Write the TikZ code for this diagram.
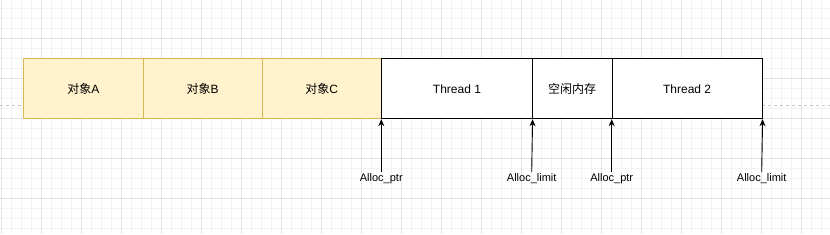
\documentclass[tikz,border=0pt]{standalone}
\usepackage{fontspec}
\setmainfont{Liberation Sans}
\newfontfamily\cjk{Noto Sans CJK SC}
\usetikzlibrary{arrows.meta}
\definecolor{objfill}{HTML}{FFF2CC}
\definecolor{objdraw}{HTML}{D6B656}
\definecolor{gridminor}{HTML}{F3F3F3}
\definecolor{gridmajor}{HTML}{E3E3E3}
\definecolor{dashgray}{HTML}{C8C8C8}
\begin{document}
\begin{tikzpicture}[x=1pt,y=-1pt,
  minorgrid/.style={draw=gridminor,line width=0.8pt},
  majorgrid/.style={draw=gridmajor,line width=0.8pt},
  objbox/.style={draw=objdraw,fill=objfill,line width=0.9pt,minimum height=60pt,anchor=north west,inner sep=0pt,font=\fontsize{12}{14}\selectfont},
  memblk/.style={draw=black,fill=white,line width=0.9pt,minimum height=60pt,anchor=north west,inner sep=0pt,font=\fontsize{12}{14}\selectfont},
  lbl/.style={inner sep=1pt,font=\fontsize{11}{13}\selectfont},
  ptr/.style={draw=black,line width=0.9pt,-{Stealth[length=7pt,width=6pt]}}]
\fill[white] (0,0) rectangle (830,234);
\useasboundingbox (0,0) rectangle (830,234);
% grid
\foreach \i in {0,...,83} {\draw[minorgrid] (1.3+10*\i,0) -- (1.3+10*\i,234);}
\foreach \j in {0,...,24} {\draw[minorgrid] (0,-1.7+10*\j) -- (830,-1.7+10*\j);}
\foreach \i in {0,...,20} {\draw[majorgrid] (1.3+40*\i,0) -- (1.3+40*\i,234);}
\foreach \j in {0,...,6} {\draw[majorgrid] (0,-1.7+40*\j) -- (830,-1.7+40*\j);}
% dashed line
\coordinate (dl) at (0,105);
\coordinate (dr) at (830,105);
\draw[dashgray,line width=0.8pt,dash pattern=on 3pt off 3pt] (dl) -- (dr);
% boxes
\node[objbox,minimum width=119.4pt] (a) at (23.3,58.3) {{\cjk 对象}A};
\node[objbox,minimum width=119pt] (b) at (142.7,58.3) {{\cjk 对象}B};
\node[objbox,minimum width=119.3pt] (c) at (261.7,58.3) {{\cjk 对象}C};
\node[memblk,minimum width=150.4pt] (t1) at (381.3,58.3) {Thread 1};
\node[memblk,minimum width=80pt] (fr) at (531.7,58.3) {\cjk 空闲内存};
\node[memblk,minimum width=150pt] (t2) at (611.7,58.3) {Thread 2};
% labels
\node[lbl] (p1) at (381.3,178.3) {Alloc\_ptr};
\node[lbl] (l1) at (531.7,178.3) {Alloc\_limit};
\node[lbl] (p2) at (611.7,178.3) {Alloc\_ptr};
\node[lbl] (l2) at (761.7,178.3) {Alloc\_limit};
% arrows
\draw[ptr] (p1.north) -- (t1.south west);
\draw[ptr] (l1.north) -- (t1.south east);
\draw[ptr] (p2.north) -- (t2.south west);
\draw[ptr] (l2.north) -- (t2.south east);
\end{tikzpicture}
\end{document}
